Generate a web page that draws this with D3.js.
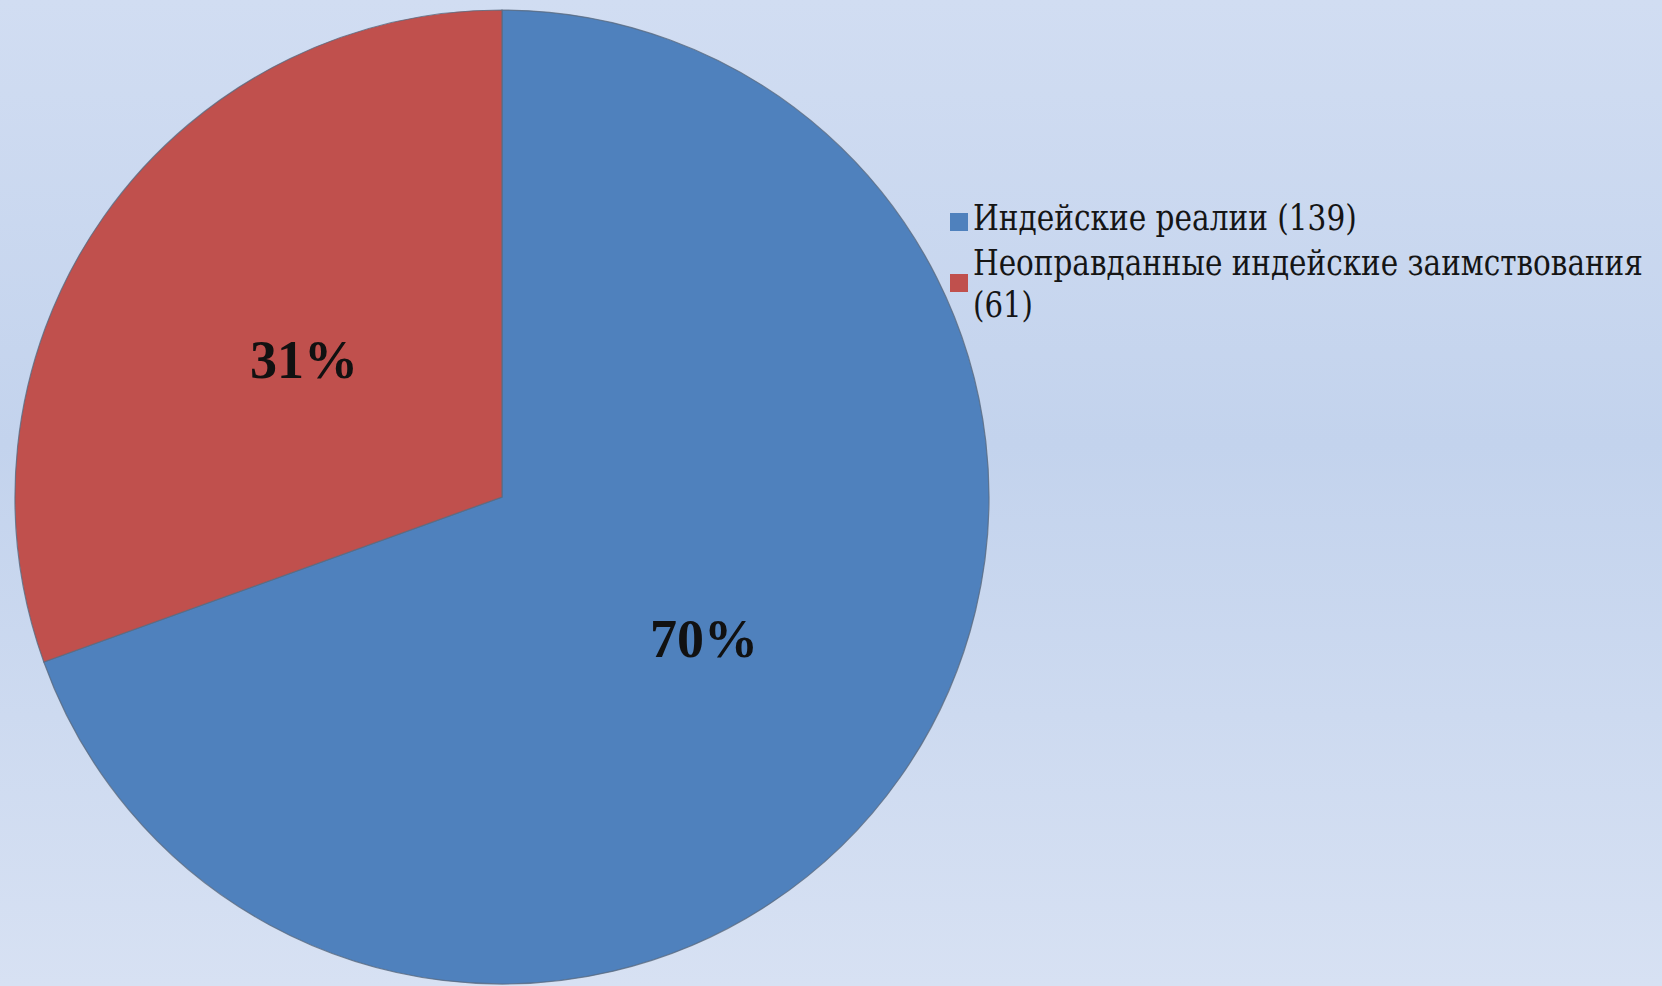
<!DOCTYPE html>
<html><head><meta charset="utf-8">
<script src="https://cdn.jsdelivr.net/npm/d3@7/dist/d3.min.js"></script>
<style>html,body{margin:0;padding:0;overflow:hidden;}svg{display:block;}
.serif{font-family:"Liberation Serif","Times New Roman",serif;}
.legserif{font-family:"DejaVu Serif",serif;}
</style>
</head><body>
<script>
const categories = ["Индейские реалии (139)", "Неоправданные индейские заимствования (61)"];
const legendLines = [["Индейские реалии (139)"], ["Неоправданные индейские заимствования", "(61)"]];
const values = [139, 61];
const percentLabels = ["70%", "31%"];
const colors = ["#4f81bd", "#c0504d"];

const W = 1662, H = 986;
const svg = d3.select("body").append("svg").attr("width", W).attr("height", H);
const defs = svg.append("defs");
const g = defs.append("linearGradient").attr("id","bg").attr("x1",0).attr("y1",0).attr("x2",0).attr("y2",1);
g.append("stop").attr("offset","0%").attr("stop-color","#d1ddf2");
g.append("stop").attr("offset","45%").attr("stop-color","#c3d3ed");
g.append("stop").attr("offset","100%").attr("stop-color","#d7e1f3");
svg.append("rect").attr("width",W).attr("height",H).attr("fill","url(#bg)");

const cx = 502, cy = 497, R = 487;
const pie = d3.pie().sort(null).value(d => d)(values);
const arc = d3.arc().innerRadius(0).outerRadius(R);
const chart = svg.append("g").attr("transform", `translate(${cx},${cy})`);
chart.selectAll("path").data(pie).join("path")
  .attr("d", arc).attr("fill", (d,i) => colors[i])
  .attr("stroke", "#5a6a80").attr("stroke-width", 1.2).attr("stroke-opacity", 0.8);

chart.selectAll("text.pct").data(pie).join("text")
  .attr("class","pct serif")
  .attr("x", (d,i) => i === 0 ? 202 : -198)
  .attr("y", (d,i) => i === 0 ? 160 : -119)
  .attr("text-anchor","middle")
  .attr("font-weight","bold").attr("font-size",54)
  .attr("fill","#111")
  .text((d,i) => percentLabels[i]);

const leg = svg.append("g");
const boxY = [213, 274];
const baseY = [230, 275];
legendLines.forEach((lines, i) => {
  leg.append("rect").attr("x",950).attr("y",boxY[i]).attr("width",18).attr("height",18).attr("fill",colors[i]);
  lines.forEach((l, j) => {
    const t = leg.append("text").attr("class","legserif").attr("font-size",35).attr("fill","#151515")
      .attr("x",0).attr("y",0).text(l);
    const target = l.length > 30 ? 670 : (l.length > 10 ? 384 : 60);
    const natural = t.node().getComputedTextLength();
    const sx = Math.min(1, target / natural);
    t.attr("transform", `translate(973,${baseY[i] + j*42}) scale(${sx},1)`);
  });
});
</script>
</body></html>
